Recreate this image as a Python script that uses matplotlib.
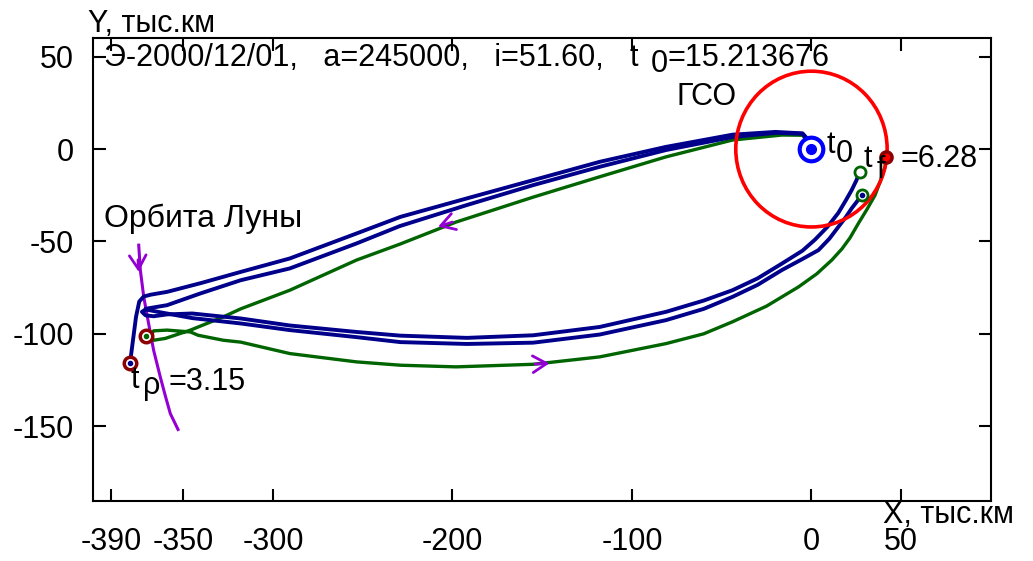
import matplotlib
matplotlib.use('Agg')
import matplotlib.pyplot as plt
from matplotlib.patches import Circle

plt.rcParams['font.family'] = ['Liberation Sans', 'DejaVu Sans']
plt.rcParams['axes.unicode_minus'] = False

# trajectories, thousand km (rotating frame)
blue_a_x = [0, -5, -20, -44, -81, -118, -155, -192, -229, -253.5, -290.6, -318, -340, -359, -368,
            -372, -374.5, -376.3, -378, -379.4, -379.8]
blue_a_y = [3, 8.5, 9.3, 7.8, 1.2, -6.9, -16.8, -26.7, -36.7, -45.7, -59.2, -66.5, -72.5, -77.3, -78.8,
            -79.8, -82.5, -90.8, -103.5, -114, -115.6]

blue_b_x = [0, -5, -20, -44, -81, -118, -155, -192, -229.4, -253.5, -290.6, -318, -340.6, -359, -370,
            -373, -371, -366.5, -359, -345, -318, -290.6, -253.5, -229, -192, -155, -118, -81, -60,
            -44, -30, -16.5, -5, 2, 9, 15, 19, 22.4, 25, 27]
blue_b_y = [3, 8.3, 8.8, 6.5, -0.5, -9.6, -19.5, -30.3, -41.7, -51.1, -64.6, -71, -78.2, -84.5, -86.3,
            -88.1, -90, -90.5, -89.5, -89, -91.7, -95.5, -99, -101, -102.2, -100.8, -96.3, -88.1, -82,
            -76.4, -70, -62, -55, -49, -42, -34.5, -28, -22.2, -17, -12.3]

blue_c_x = [-371, -362, -345, -318, -290.6, -253.5, -229, -192, -155, -118, -81, -60, -44, -30, -16.5,
            -5, 3.9, 10, 15, 19, 22.4, 25.5, 28]
blue_c_y = [-86.8, -88.5, -91.5, -94.4, -98, -101.8, -104.5, -105.5, -104.8, -100.4, -92.6, -86.5, -80,
            -73.5, -65.5, -59.5, -54.7, -48.5, -42.1, -37, -32.1, -28.2, -24.9]

green_x = [0, -5, -16.5, -44, -81, -118, -155, -198, -229.4, -253.5, -290.6, -318, -327.6, -346, -360,
           -366.5, -368, -366.5, -359, -346, -341.7, -327.6, -318, -290.6, -253.5, -229, -198, -155,
           -118, -81, -60, -44, -25, -7.2, 3, 11.3, 17, 21.5, 26.1, 31, 35.4, 38.5, 41, 41.8]
green_y = [2, 7.5, 7.6, 4.9, -4.2, -15, -26, -39.5, -51.5, -60.1, -76.4, -86.5, -90.8, -98, -102.5,
           -103.5, -101, -98.4, -98, -99, -100.8, -103.5, -104.5, -110.7, -115.2, -117, -117.9, -116.5,
           -112.5, -105.3, -100, -93.5, -85, -74.6, -67.5, -60.1, -54, -48, -40.3, -32.5, -25, -17,
           -9.6, -4.2]

moon_x = [-374.8, -373.9, -372, -369.3, -366.5, -362.8, -360, -357.2, -352.9]
moon_y = [-52, -65.5, -80, -94.4, -108.9, -123.3, -133.5, -143.2, -151.8]

gso_r = 42.164

# arrows: tip and tail points
arrow_tips = [(-208, -42), (-146, -116), (-374.8, -66.5)]
arrow_tails = [(-200, -39.5), (-154, -116.4), (-375.2, -60)]

xticks = [-390, -350, -300, -200, -100, 0, 50]
yticks = [50, 0, -50, -100, -150]

navy = '#00008B'
dgreen = '#006400'
dred = '#8B0000'
violet = '#9400D3'

fig = plt.figure(figsize=(10.33, 5.61), dpi=100)
ax = fig.add_axes([0.0905, 0.107, 0.8688, 0.8258])

ax.add_patch(Circle((0, 0), gso_r, fill=False, ec='red', lw=2.6, zorder=3))
ax.plot(moon_x, moon_y, color=violet, lw=2.2, zorder=2)
ax.plot(green_x, green_y, color=dgreen, lw=2.4, zorder=2, solid_joinstyle='round')
ax.plot(blue_c_x, blue_c_y, color=navy, lw=2.8, zorder=2, solid_joinstyle='round')
ax.plot(blue_b_x, blue_b_y, color=navy, lw=2.8, zorder=2, solid_joinstyle='round')
ax.plot(blue_a_x, blue_a_y, color=navy, lw=2.8, zorder=2, solid_joinstyle='round')

for tip, tail in zip(arrow_tips, arrow_tails):
    ax.annotate('', xy=tip, xytext=tail,
                arrowprops=dict(arrowstyle='->,head_length=0.5,head_width=0.3',
                                color=violet, lw=2, mutation_scale=20, shrinkA=0, shrinkB=0),
                zorder=4)

# start point (Earth)
ax.plot([0], [0], 'o', ms=17, mfc='white', mec='#0000FF', mew=3, zorder=5)
ax.plot([0], [0], 'o', ms=7, color='#0000FF', zorder=6)

# periselene and Moon position
ax.plot([blue_a_x[-1]], [blue_a_y[-1]], 'o', ms=9, mfc='white', mec=dred, mew=2.5, zorder=5)
ax.plot([blue_a_x[-1]], [blue_a_y[-1]], 'o', ms=3, color=navy, zorder=6)
ax.plot([-370.6], [-101.3], 'o', ms=9, mfc='white', mec=dred, mew=2.5, zorder=5)
ax.plot([-370.6], [-101.3], 'o', ms=3, color=dgreen, zorder=6)

# final points
ax.plot([blue_b_x[-1]], [blue_b_y[-1]], 'o', ms=8, mfc='white', mec=dgreen, mew=2, zorder=5)
ax.plot([blue_c_x[-1]], [blue_c_y[-1]], 'o', ms=8, mfc='white', mec=dgreen, mew=2, zorder=5)
ax.plot([blue_c_x[-1]], [blue_c_y[-1]], 'o', ms=3, color=navy, zorder=6)
ax.plot([green_x[-1]], [green_y[-1]], 'o', ms=8, mfc='red', mec=dred, mew=2.5, zorder=5)

fs = 22
ax.text(-394.4, 45, 'Э-2000/12/01,   a=245000,   i=51.60,', fontsize=fs)
ax.text(-101.5, 45, 't', fontsize=fs)
ax.text(-89.5, 41.5, '0', fontsize=fs)
ax.text(-80, 45, '=15.213676', fontsize=fs)
ax.text(-75, 24, 'ГСО', fontsize=fs)
ax.text(8.3, -2.2, 't', fontsize=fs, zorder=7)
ax.text(13.3, -7, '0', fontsize=fs, zorder=7)
ax.text(28.9, -9.8, 't', fontsize=fs, zorder=7)
ax.text(36.2, -15.7, 'f', fontsize=fs, zorder=7)
ax.text(49.4, -9.8, '=6.28', fontsize=fs, zorder=7)
ax.text(-379.4, -129.5, 't', fontsize=fs, zorder=7)
ax.text(-372.2, -132.7, 'ρ', fontsize=fs, zorder=7)
ax.text(-358.3, -130.5, '=3.15', fontsize=fs, zorder=7)
ax.text(-394, -42.3, 'Орбита Луны', fontsize=23)
ax.text(40, -202.6, 'X, тыс.км', fontsize=fs, clip_on=False)
ax.text(-403.3, 63.4, 'Y, тыс.км', fontsize=fs, clip_on=False)

ax.set_xlim(-400, 100)
ax.set_ylim(-190.5, 60.3)
ax.set_xticks(xticks)
ax.set_yticks(yticks)
ax.tick_params(direction='in', length=9, width=1.5, top=True, right=True, labelsize=fs)
ax.tick_params(axis='x', pad=19)
ax.tick_params(axis='y', pad=14)
for s in ax.spines.values():
    s.set_linewidth(1.5)

fig.savefig('out.png', dpi=100)
